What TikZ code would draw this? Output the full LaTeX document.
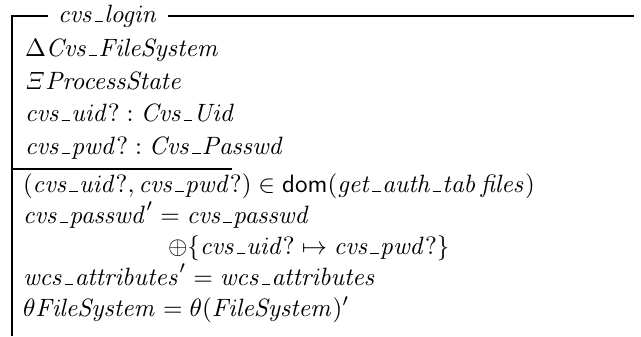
\documentclass[tikz,border=0pt]{standalone}
\usepackage{amsmath}
\usepackage{graphicx}
% short Z-style underscore sitting on the baseline
\newcommand\zu{\kern0.05em\vbox{\hrule width0.34em height0.045em}\kern0.05em}
\newcommand\zm[1]{\scalebox{1.88}{$#1$}}
\begin{document}
\begin{tikzpicture}[x=0.75pt,y=-0.75pt,
  zline/.style={line width=0.8pt},
  zrow/.style={anchor=base west,inner sep=0pt,outer sep=0pt,font=\fontsize{10}{12}\selectfont}]
\useasboundingbox (0,0) rectangle (641,336);
% schema frame
\node[zrow] (title) at (58,22) {\zm{\mathit{cvs\zu login}}};
\coordinate (tl) at (12,16);
\coordinate (tr) at (634,16);
\coordinate (bl) at (12,336);
\coordinate (ml) at (12,169);
\coordinate (mr) at (232,169);
\draw[zline] (bl) -- (tl) -- ([xshift=-7.5pt]title.west |- tl);
\draw[zline] ([xshift=8pt]title.east |- tl) -- (tr);
\draw[zline] (ml) -- (mr);
% declarations
\node[zrow] (d1) at (25,56) {\zm{\Delta \mathit{Cvs\zu FileSystem}}};
\node[zrow] (d2) at (25,89) {\zm{\mathit{\Xi} \mathit{ProcessState}}};
\node[zrow] (d3) at (25,121) {\zm{\mathit{cvs\zu uid}? : \mathit{Cvs\zu Uid}}};
\node[zrow] (d4) at (25,154) {\zm{\mathit{cvs\zu pwd}? : \mathit{Cvs\zu Passwd}}};
% predicates
\node[zrow] (p1) at (23,192) {\zm{(\mathit{cvs\zu uid}?, \mathit{cvs\zu pwd}?) \in \mathsf{dom}(\mathit{get\zu auth\zu tab}\,\mathit{files})}};
\node[zrow] (p2) at (23,223) {\zm{\mathit{cvs\zu passwd}' = \mathit{cvs\zu passwd}}};
\node[zrow] (p3) at (168,254) {\zm{\oplus \{ \mathit{cvs\zu uid}? \mapsto \mathit{cvs\zu pwd}? \}}};
\node[zrow] (p4) at (23,285) {\zm{\mathit{wcs\zu attributes}' = \mathit{wcs\zu attributes}}};
\node[zrow] (p5) at (23,316) {\zm{\theta \mathit{FileSystem} = \theta(\mathit{FileSystem})'}};
\end{tikzpicture}
\end{document}
